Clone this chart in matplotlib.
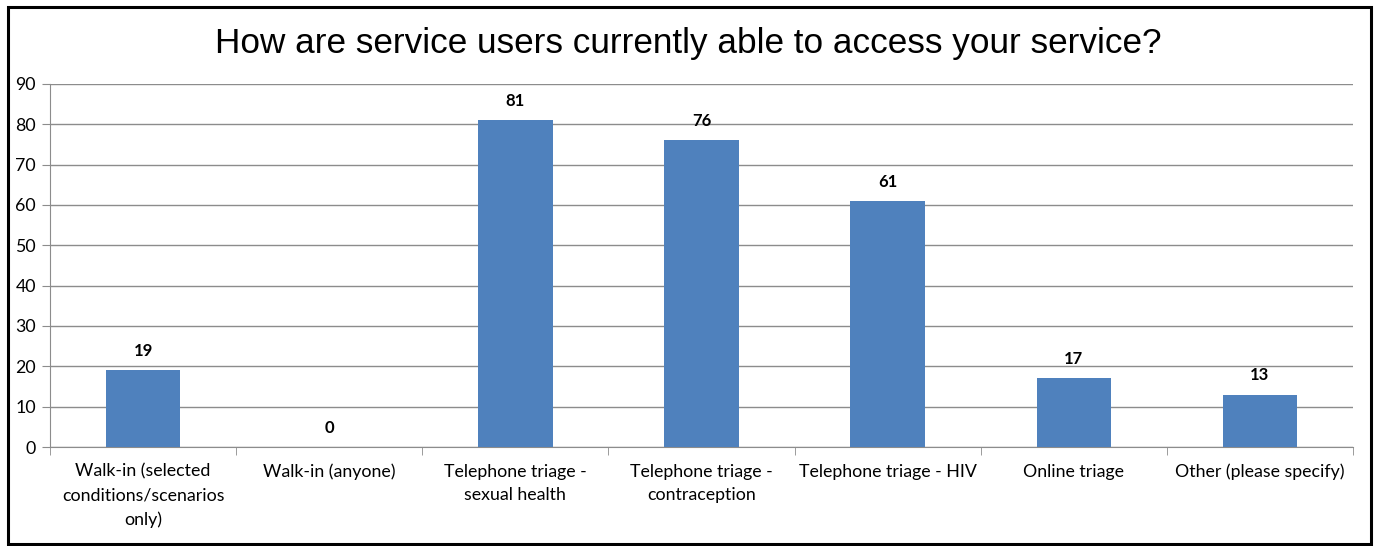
import matplotlib.pyplot as plt
import numpy as np
from matplotlib.patches import Rectangle

# datos
categorias = ['Walk-in (selected\nconditions/scenarios\nonly)', 'Walk-in (anyone)',
              'Telephone triage -\nsexual health', 'Telephone triage -\ncontraception',
              'Telephone triage - HIV', 'Online triage', 'Other (please specify)']
valores = [19, 0, 81, 76, 61, 17, 13]
titulo = 'How are service users currently able to access your service?'

plt.rcParams['font.family'] = ['Liberation Sans', 'DejaVu Sans']

fig = plt.figure(figsize=(13.77, 5.46), dpi=100)
ax = fig.add_axes([0.0363, 0.1813, 0.9463, 0.6649])

x = np.arange(len(categorias))
ax.bar(x, valores, width=0.4, color='#4F81BD', zorder=3)
for xi, v in zip(x, valores):
    ax.text(xi, v + 4.8, str(v), ha='center', va='center', fontsize=12,
            fontweight='bold', family=['Lato', 'DejaVu Sans'])

ax.set_xlim(-0.5, len(categorias) - 0.5)
ax.set_ylim(0, 90)
ax.set_yticks(range(0, 91, 10))
ax.yaxis.grid(True, color='#8c8c8c', linewidth=1, zorder=0)
ax.set_axisbelow(True)

ax.set_xticks(x)
ax.set_xticklabels(categorias, fontsize=12.8, family=['Lato', 'DejaVu Sans'], linespacing=1.58)
ax.set_xticks(np.arange(-0.5, len(categorias)), minor=True)
ax.tick_params(axis='x', which='major', length=0, pad=12)
ax.tick_params(axis='x', which='minor', length=6, color='#8c8c8c')
ax.tick_params(axis='y', length=6, color='#8c8c8c', labelsize=12.8, pad=4)
for lbl in ax.get_yticklabels():
    lbl.set_family(['Lato', 'DejaVu Sans'])

for s in ['top', 'right']:
    ax.spines[s].set_visible(False)
ax.spines['left'].set_color('#8c8c8c')
ax.spines['bottom'].set_color('#8c8c8c')

fig.text(0.5, 0.921, titulo, ha='center', va='center', fontsize=25.3)

# marco
fig.patches.append(Rectangle((0.0058, 0.004), 0.9897, 0.983, transform=fig.transFigure,
                             fill=False, edgecolor='black', linewidth=2.2))

fig.savefig('out.png', dpi=100)
